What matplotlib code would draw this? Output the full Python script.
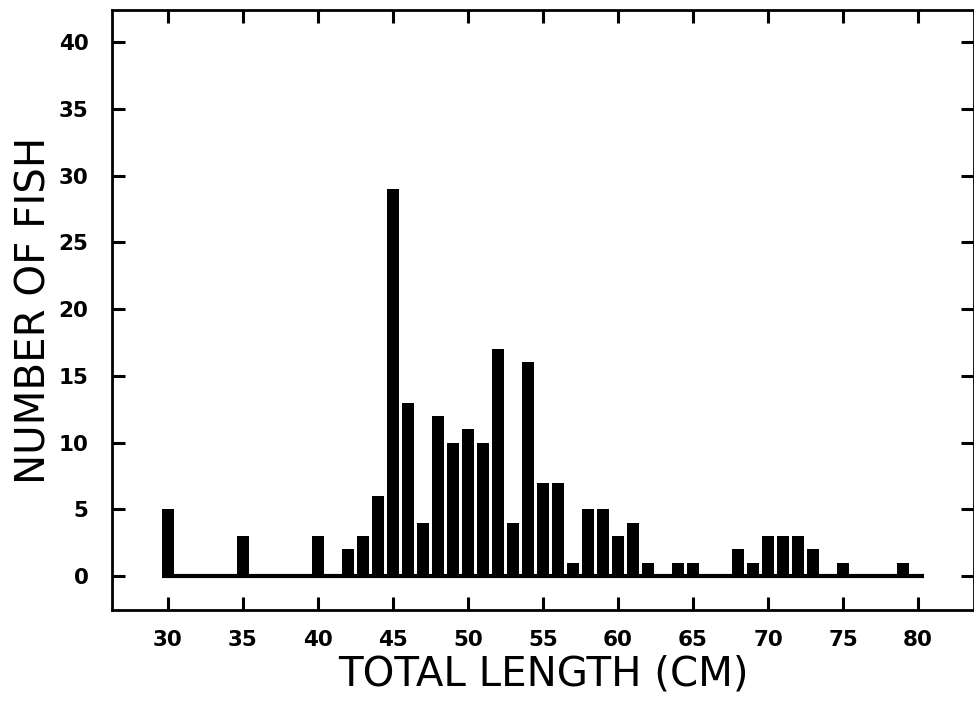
import numpy as np
import matplotlib.pyplot as plt

# total length (cm) and fish counts
lengths = list(range(30, 81))
counts = [5, 0, 0, 0, 0, 3, 0, 0, 0, 0,
          3, 0, 2, 3, 6, 29, 13, 4, 12, 10,
          11, 10, 17, 4, 16, 7, 7, 1, 5, 5,
          3, 4, 1, 0, 1, 1, 0, 0, 2, 1,
          3, 3, 3, 2, 0, 1, 0, 0, 0, 1,
          0]
xticks = list(range(30, 81, 5))
yticks = list(range(0, 41, 5))

fig = plt.figure(figsize=(9.74, 7.04), dpi=100)
ax = fig.add_axes([0.115, 0.1335, 0.885, 0.852])

ax.bar(lengths, counts, width=0.78, color='black')
ax.plot([lengths[0] - 0.39, lengths[-1] + 0.39], [0, 0], color='black', lw=3,
        solid_capstyle='butt')

ax.set_xlim(26.27, 83.73)
ax.set_ylim(-2.55, 42.4)
ax.set_xticks(xticks)
ax.set_yticks(yticks)

for s in ax.spines.values():
    s.set_linewidth(2.0)

ax.tick_params(direction='in', length=9.5, width=2.2, top=True, right=True,
               labelsize=15.5)
ax.tick_params(axis='x', pad=14.5)
ax.tick_params(axis='y', pad=17)
for lab in ax.get_xticklabels() + ax.get_yticklabels():
    lab.set_fontweight('bold')

ax.set_xlabel('TOTAL LENGTH (CM)', fontsize=29, labelpad=3)
ax.set_ylabel('NUMBER OF FISH', fontsize=29, labelpad=3)

fig.savefig('out.png', dpi=100)
